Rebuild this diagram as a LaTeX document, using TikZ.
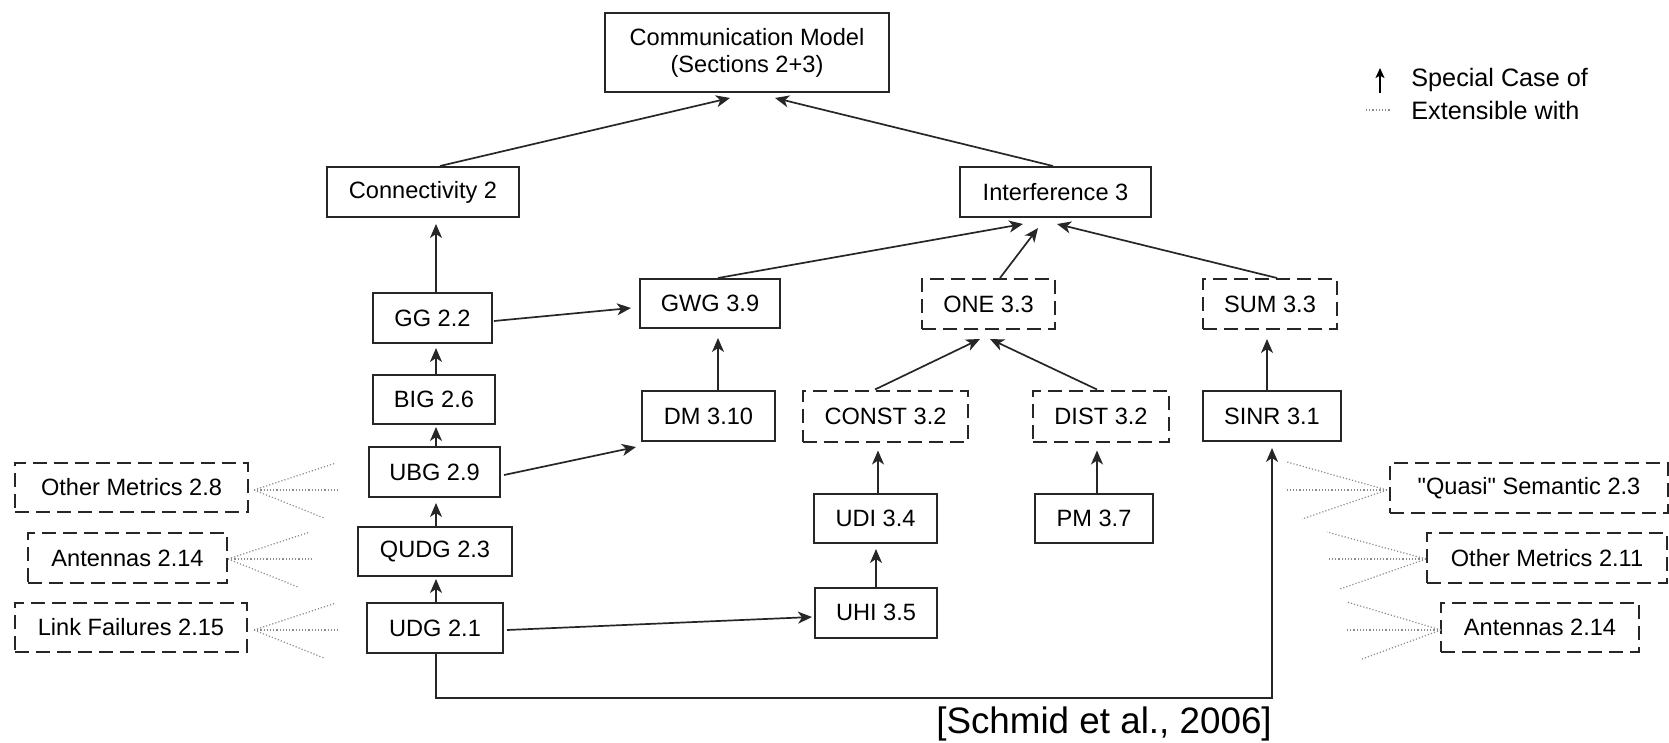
\documentclass[tikz,border=0pt]{standalone}
\usepackage{fontspec}
\setmainfont{Liberation Sans}
\usetikzlibrary{arrows.meta,calc}
\begin{document}
\begin{tikzpicture}[x=0.5pt,y=-0.5pt,
  sz/.style n args={2}{minimum width=#1*0.5pt,minimum height=#2*0.5pt},
  box/.style={draw=black!85, line width=1pt, fill=white, inner sep=0pt,
    font=\fontsize{11.8}{13.5}\selectfont, align=center},
  dbox/.style={box, dash pattern=on 7pt off 3.5pt},
  arr/.style={draw=black!85, line width=0.85pt,
    -{Stealth[length=7pt,width=6pt,inset=2pt]}},
  ext/.style={draw=black!45, line width=0.6pt, densely dotted},
  legtext/.style={anchor=west, inner sep=0pt, font=\fontsize{12.6}{15}\selectfont},
]
\useasboundingbox (0,0) rectangle (1669,743);

% top levels
\node[box, sz={284}{79}] (comm) at (747,52.5) {Communication Model\\(Sections 2+3)};
\node[box, sz={192}{50}] (conn) at (423,192) {Connectivity 2};
\node[box, sz={191}{50}] (interf) at (1055.5,192) {Interference 3};

% connectivity column
\node[box, sz={119}{50}] (gg)   at (432.5,318) {GG 2.2};
\node[box, sz={122}{49}] (big)  at (434,399.5) {BIG 2.6};
\node[box, sz={131}{50}] (ubg)  at (434.5,472) {UBG 2.9};
\node[box, sz={154}{49}] (qudg) at (435,551.5) {QUDG 2.3};
\node[box, sz={136}{50}] (udg)  at (435,628) {UDG 2.1};

% interference models
\node[box,  sz={140}{49}] (gwg)   at (710,303.5)  {GWG 3.9};
\node[box,  sz={133}{50}] (dm)    at (708.5,416)  {DM 3.10};
\node[dbox, sz={133}{50}] (one)   at (988.5,304)  {ONE 3.3};
\node[dbox, sz={134}{50}] (sum)   at (1270,304)   {SUM 3.3};
\node[dbox, sz={165}{51}] (const) at (885.5,416)  {CONST 3.2};
\node[dbox, sz={136}{51}] (dist)  at (1101,416)   {DIST 3.2};
\node[box,  sz={138}{50}] (sinr)  at (1272,416)   {SINR 3.1};
\node[box,  sz={123}{49}] (udi)   at (875.5,518.5){UDI 3.4};
\node[box,  sz={118}{49}] (pm)    at (1094,518.5) {PM 3.7};
\node[box,  sz={122}{50}] (uhi)   at (876,612.5)  {UHI 3.5};

% extensions
\node[dbox, sz={233}{49}] (omL)   at (131.5,487.5) {Other Metrics 2.8};
\node[dbox, sz={199}{50}] (antL)  at (127.5,558)   {Antennas 2.14};
\node[dbox, sz={232}{49}] (lf)    at (131,627.5)   {Link Failures 2.15};
\node[dbox, sz={278}{50}] (quasi) at (1529,488)    {\textquotedbl Quasi\textquotedbl{} Semantic 2.3};
\node[dbox, sz={240}{50}] (omR)   at (1547,558)    {Other Metrics 2.11};
\node[dbox, sz={198}{49}] (antR)  at (1540,627.5)  {Antennas 2.14};

% special-case arrows
\draw[arr] ($(conn.north)+(17,0)$) -- ($(comm.south)+(-17,5)$);
\draw[arr] ($(interf.north)+(-2.5,0)$) -- ($(comm.south)+(28,5)$);
\draw[arr] ($(gg.north)+(3.5,0)$) -- ($(conn.south)+(13,6)$);
\draw[arr] ($(big.north)+(2,0)$) -- ($(gg.south)+(3.5,4)$);
\draw[arr] ($(ubg.north)+(1.5,0)$) -- ($(big.south)+(2,2)$);
\draw[arr] ($(qudg.north)+(1,0)$) -- ($(ubg.south)+(1.5,5)$);
\draw[arr] ($(udg.north)+(1,0)$) -- ($(qudg.south)+(1,2)$);
\draw[arr] ($(gg.east)+(1,3)$) -- ($(gwg.west)+(-8,4.5)$);
\draw[arr] ($(ubg.east)+(3,3)$) -- ($(dm.south west)+(-5,5)$);
\draw[arr] ($(dm.north)+(9.5,0)$) -- ($(gwg.south)+(8,9)$);
\draw[arr] ($(gwg.north)+(8,0)$) -- ($(interf.south)+(-32.5,6)$);
\draw[arr] ($(one.north)+(11.5,0)$) -- ($(interf.south)+(-17.5,10)$);
\draw[arr] ($(sum.north)+(7,0)$) -- ($(interf.south)+(1.5,6)$);
\draw[arr] ($(const.north)+(-10.5,0)$) -- ($(one.south)+(-8.5,9)$);
\draw[arr] ($(dist.north)+(-4,0)$) -- ($(one.south)+(1.5,9)$);
\draw[arr] ($(sinr.north)+(-5,0)$) -- ($(sum.south)+(-3,9)$);
\draw[arr] ($(udi.north)+(2.5,0)$) -- ($(const.south)+(-7.5,8)$);
\draw[arr] ($(pm.north)+(3,0)$) -- ($(dist.south)+(-4,8)$);
\draw[arr] (uhi.north) -- ($(udi.south)+(0.5,5)$);
\draw[arr] ($(udg.east)+(3,2)$) -- ($(uhi.west)+(-2,4.5)$);
\draw[arr] ($(udg.south)+(1,0)$) -- ++(0,44) -| ($(sinr.south)+(0,6)$);

% extension fans
\foreach \n/\dx/\dy in {omL/5/2.5, antL/0/1, lf/6/2.5}{
  \draw[ext] ($(\n.east)+(\dx,\dy)$) -- ++(82,-27);
  \draw[ext] ($(\n.east)+(\dx,\dy)$) -- ++(85,0);
  \draw[ext] ($(\n.east)+(\dx,\dy)$) -- ++(70,28);
}
\draw[ext] ($(quasi.west)+(-2,2)$) -- ++(-100,-28);
\draw[ext] ($(quasi.west)+(-2,2)$) -- ++(-100,0);
\draw[ext] ($(quasi.west)+(-2,2)$) -- ++(-85,29);
\draw[ext] ($(omR.west)+(0,1)$) -- ++(-99,-27);
\draw[ext] ($(omR.west)+(0,1)$) -- ++(-99,0);
\draw[ext] ($(omR.west)+(0,1)$) -- ++(-86,30);
\draw[ext] ($(antR.west)+(1,2.5)$) -- ++(-94,-28);
\draw[ext] ($(antR.west)+(1,2.5)$) -- ++(-94,0);
\draw[ext] ($(antR.west)+(1,2.5)$) -- ++(-79,29);

% legend
\coordinate (legArrowFrom) at (1380,93);
\coordinate (legArrowTo) at (1380,68);
\coordinate (legDotFrom) at (1366,110);
\coordinate (legDotTo) at (1391,110);
\draw[draw=black, line width=0.85pt, -{Stealth[length=5pt,width=4.5pt,inset=1.2pt]}] (legArrowFrom) -- (legArrowTo);
\draw[ext] (legDotFrom) -- (legDotTo);
\node[legtext] (legSpecial) at (1411,80) {Special Case of};
\node[legtext] (legExt) at (1411,110) {Extensible with};

% citation
\node[font=\fontsize{18.4}{22}\selectfont, inner sep=0pt] (cite) at (1104,724) {[Schmid et al., 2006]};
\end{tikzpicture}
\end{document}
